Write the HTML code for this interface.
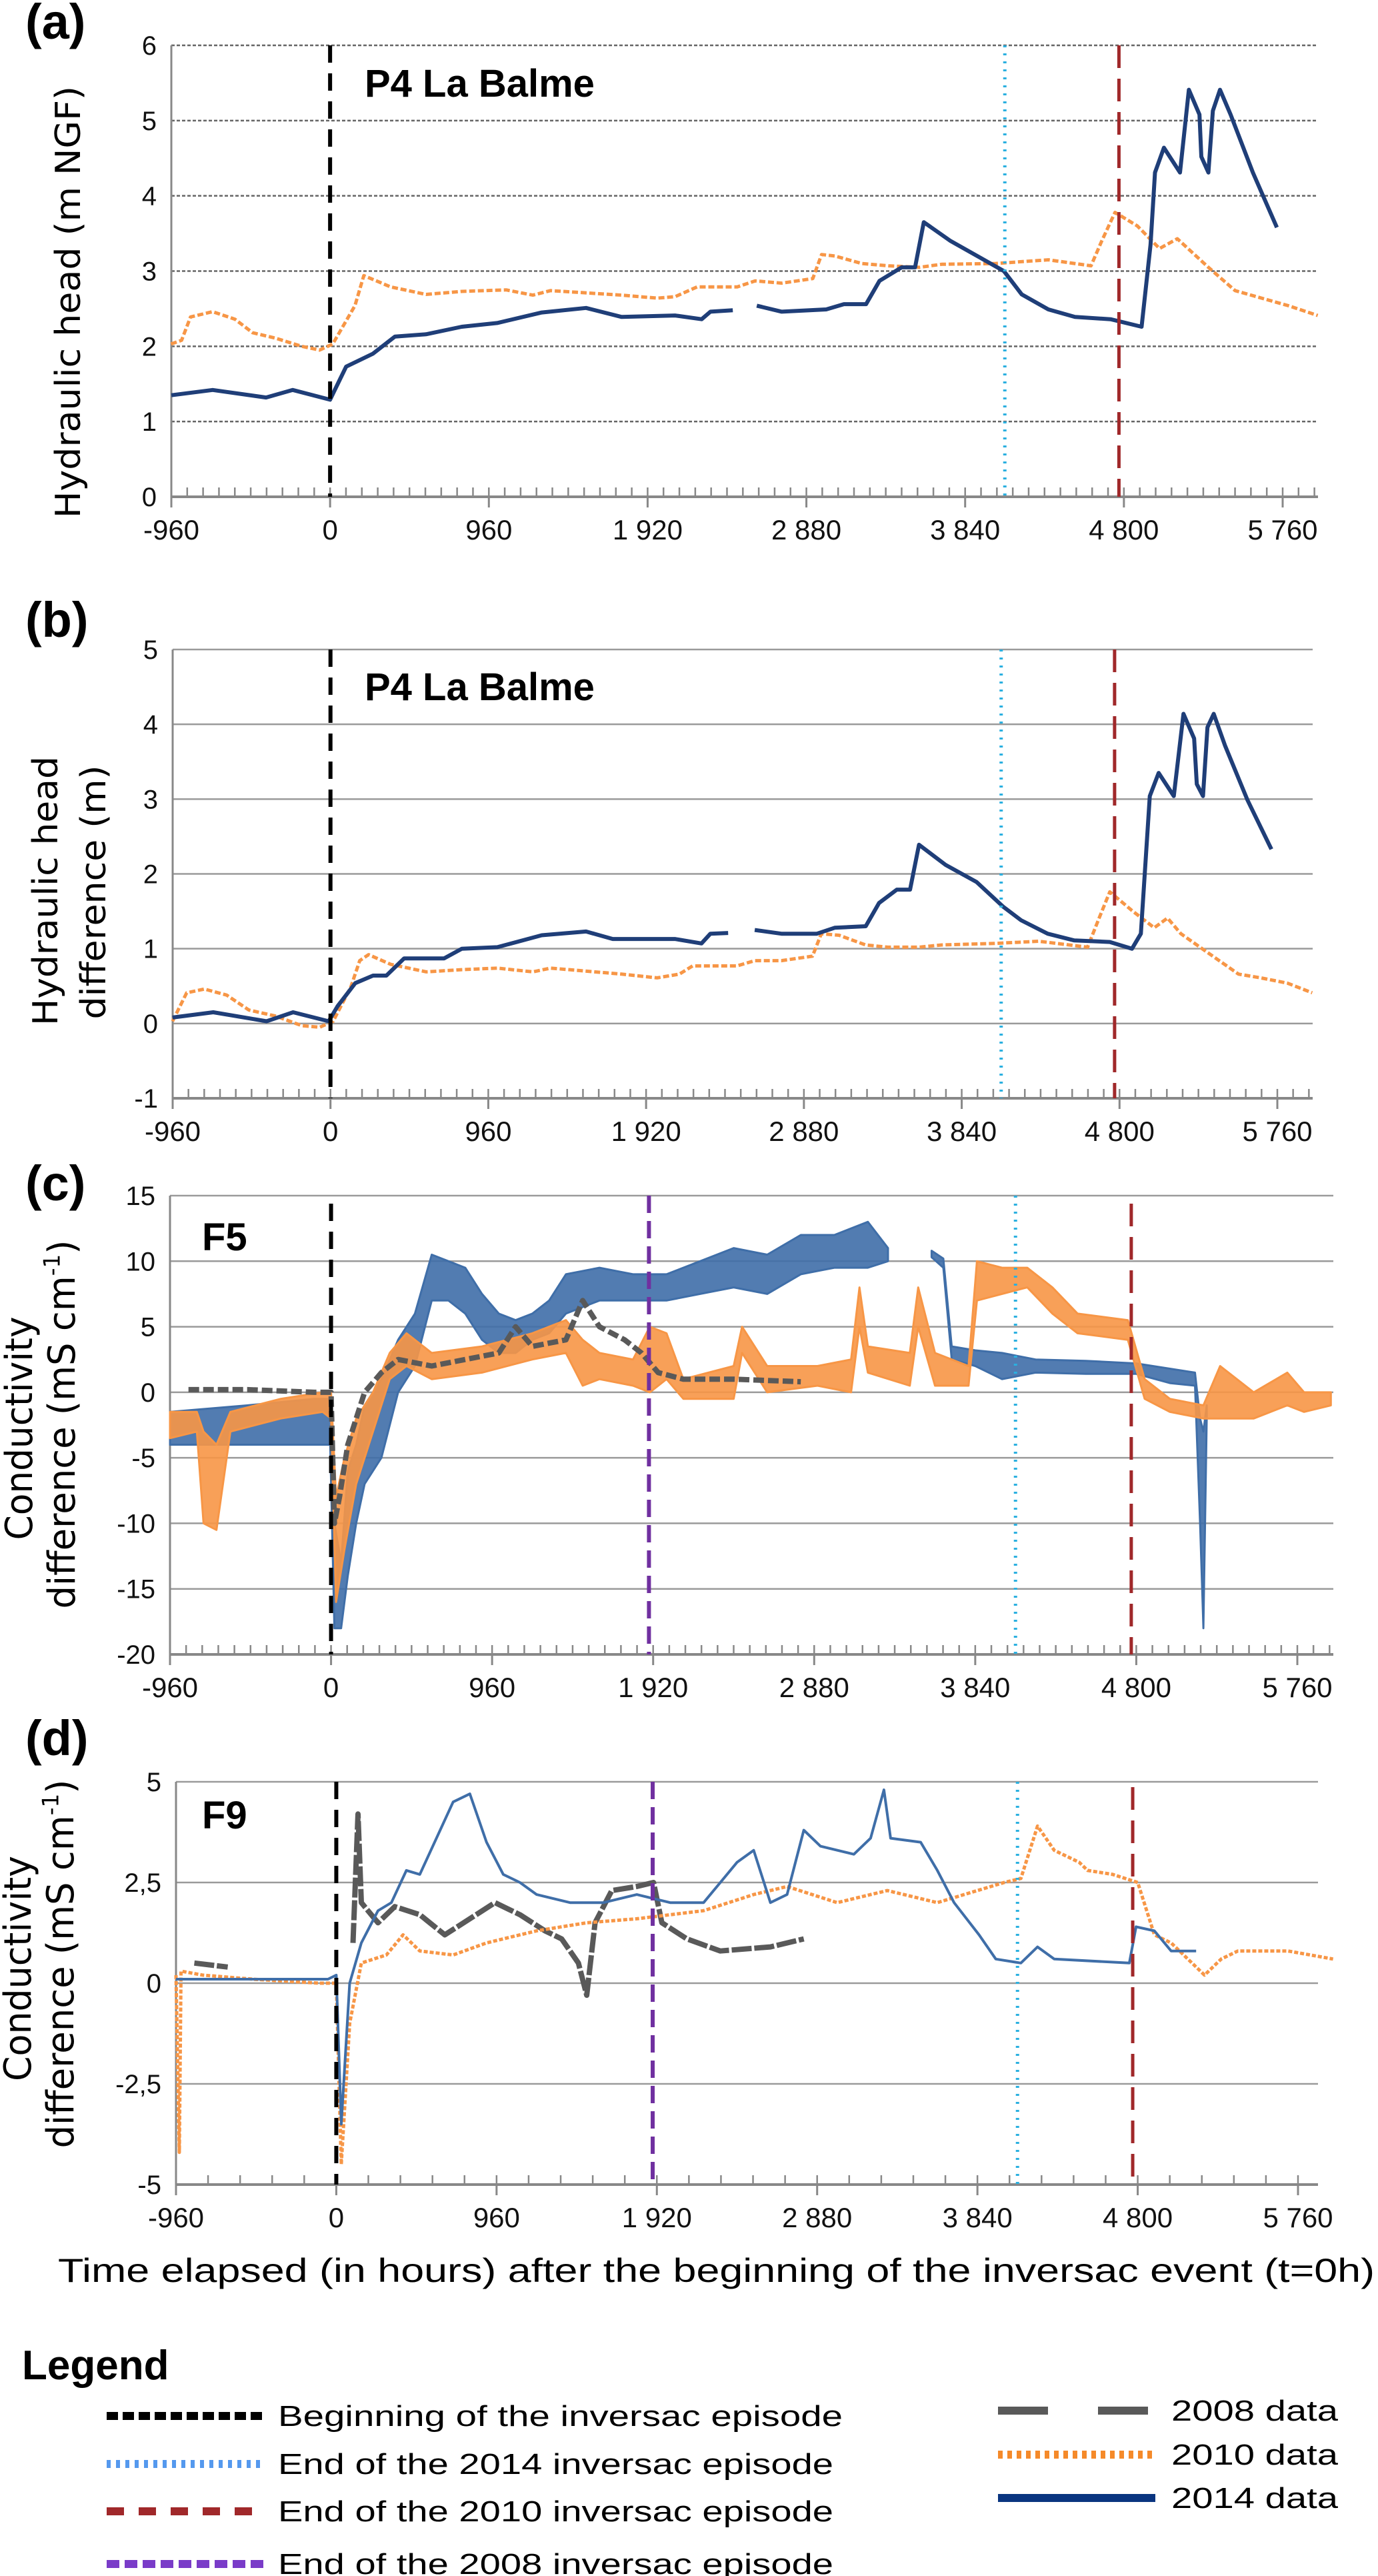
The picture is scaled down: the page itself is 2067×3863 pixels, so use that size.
<!DOCTYPE html>
<html><head><meta charset="utf-8"><style>
html,body{margin:0;padding:0;background:#fff;}
svg{display:block;font-family:"Liberation Sans",sans-serif;}
</style></head><body>
<svg id="fig" width="2067" height="3863" viewBox="0 0 2067 3863" xmlns="http://www.w3.org/2000/svg"></svg>
<script>
// ---------- DATA ----------
const xTicks = [-960, 0, 960, 1920, 2880, 3840, 4800, 5760];
const xTickLabels = ["-960", "0", "960", "1 920", "2 880", "3 840", "4 800", "5 760"];
const aYTicks = [0, 1, 2, 3, 4, 5, 6];
const bYTicks = [-1, 0, 1, 2, 3, 4, 5];
const cYTicks = [-20, -15, -10, -5, 0, 5, 10, 15];
const dYTicks = [-5, -2.5, 0, 2.5, 5];
const dYTickLabels = ["-5", "-2,5", "0", "2,5", "5"];
const episodeStart = 0;
const end2014 = 4080;
const end2010 = 4770;
const end2008 = 1895;

// (a) hydraulic head
const aHours2014 = [-960,-710,-387,-226,0,97,258,392,580,796,1010,1280,1548,1763,2086,2247,2300,2435,2500,2580,2731,3000,3107,3241,3322,3456,3537,3590,3752,3913,4074,4182,4343,4504,4719,4907,4961,4988,5042,5139,5193,5257,5268,5311,5338,5381,5445,5580,5725];
const aVals2014 = [1.35,1.42,1.32,1.42,1.29,1.73,1.9,2.13,2.16,2.26,2.31,2.45,2.51,2.39,2.41,2.36,2.46,2.48,null,2.54,2.46,2.49,2.56,2.56,2.87,3.05,3.05,3.65,3.40,3.20,3.0,2.69,2.49,2.39,2.36,2.26,3.35,4.31,4.64,4.31,5.41,5.08,4.52,4.31,5.13,5.41,5.08,4.31,3.58];
const aHours2010 = [-962,-898,-844,-710,-575,-468,-333,-172,-64,16,150,204,366,580,796,1064,1226,1333,1763,1978,2086,2220,2462,2570,2731,2919,2972,3053,3215,3376,3564,3698,4021,4343,4601,4666,4746,4881,5015,5123,5311,5472,5633,5794,5972];
const aVals2010 = [2.03,2.08,2.39,2.46,2.36,2.18,2.11,2.0,1.95,2.03,2.54,2.94,2.79,2.69,2.73,2.75,2.68,2.74,2.68,2.64,2.66,2.79,2.79,2.87,2.84,2.9,3.22,3.2,3.1,3.07,3.05,3.09,3.1,3.15,3.07,3.4,3.78,3.60,3.30,3.43,3.05,2.74,2.64,2.54,2.41];

// (b) hydraulic head difference
const bHours2014 = [-961,-713,-389,-227,-11,43,151,259,340,448,583,691,799,1015,1285,1555,1717,2095,2257,2311,2419,2500,2581,2743,2959,3067,3256,3337,3445,3526,3580,3742,3931,4093,4201,4363,4525,4741,4876,4930,4984,5038,5130,5189,5254,5270,5308,5335,5373,5443,5578,5724];
const bVals2014 = [0.08,0.15,0.03,0.15,0.03,0.23,0.54,0.64,0.64,0.87,0.87,0.87,1.0,1.02,1.18,1.23,1.13,1.13,1.07,1.2,1.21,null,1.25,1.2,1.2,1.28,1.30,1.61,1.79,1.79,2.39,2.12,1.89,1.56,1.38,1.2,1.11,1.09,1.0,1.2,3.04,3.35,3.04,4.14,3.81,3.2,3.04,3.96,4.14,3.71,2.99,2.33];
const bHours2010 = [-961,-875,-767,-632,-497,-335,-173,-65,16,124,178,232,367,583,799,1015,1231,1339,1771,1987,2122,2203,2473,2581,2743,2932,2986,3094,3256,3391,3580,3715,4039,4309,4606,4676,4741,4876,5011,5092,5173,5335,5524,5659,5821,5972];
const bVals2010 = [0.03,0.41,0.46,0.38,0.18,0.10,-0.03,-0.05,0.03,0.49,0.84,0.92,0.79,0.69,0.72,0.74,0.69,0.74,0.66,0.61,0.66,0.77,0.77,0.84,0.84,0.90,1.2,1.18,1.05,1.02,1.02,1.05,1.07,1.10,1.02,1.41,1.76,1.51,1.28,1.41,1.2,0.95,0.66,0.61,0.54,0.41];

// (c) F5 conductivity difference (noisy records given as low/high envelopes)
const cHours2014 = [-960,-500,-100,-5,20,60,100,150,200,300,400,500,600,700,800,900,1000,1100,1200,1300,1400,1600,1800,2000,2200,2400,2600,2800,3000,3200,3320];
const cLow2014 =   [-4,-4,-4,-4,-18,-18,-14,-10,-7,-5,0,2,7,7,6,4,3,3,4,4.5,6,7,7,7,7.5,8,7.5,9,9.5,9.5,10];
const cHigh2014 =  [-1.5,-1,-0.5,-0.5,-10,-13,-6,-4,-1,1,4,6,10.5,10,9.5,7.5,6,5.5,6,7,9,9.5,9,9,10,11,10.5,12,12,13,11];
const cHours2014b = [3580,3650,3700,3840,4000,4200,4500,4800,5000,5150,5180,5200,5220];
const cLow2014b =   [10.3,9.5,2.5,2,1,1.5,1.4,1.4,0.7,0.5,-10,-18,-2];
const cHigh2014b =  [10.8,10.2,3.5,3.2,3,2.5,2.4,2.2,1.8,1.5,-2,-3,-1];
const cHours2010 = [-960,-800,-760,-683,-600,-300,-50,0,30,80,150,250,350,450,600,900,1200,1400,1500,1600,1800,1900,2000,2100,2400,2450,2600,2900,3100,3150,3200,3450,3500,3600,3800,3850,4000,4150,4300,4450,4750,4850,5000,5200,5300,5500,5700,5800,5960];
const cLow2010 =  [-3.5,-3,-10,-10.5,-3,-2,-1.5,-2,-16,-12,-7,-3,1,2,1,1.5,2.5,3,0.5,1,0.5,0,1,-0.5,-0.5,3,0,0.5,0,5,1.5,0.5,5,0.5,0.5,7,7.5,8,6,4.5,4,-0.5,-1.5,-2,-2,-2,-1,-1.5,-1];
const cHigh2010 = [-1.5,-1.5,-3,-4,-1.5,-0.5,0,0,-8,-5,-2,0,3,4.5,3,3.5,4.5,5.5,4,3,2.5,5,4.5,1,2,5,2,2,2.5,8,3.5,3,8,3,2,10,9.5,9.5,8,6,5.5,1,-0.5,-1,2,0,1.5,0,0];
const cHours2008 = [-850,-500,-100,0,20,50,100,150,200,300,400,600,800,1000,1100,1200,1400,1500,1600,1750,1850,1950,2100,2400,2800];
const cVals2008 =  [0.2,0.2,0,0,-10,-8,-4,-2,0,1.5,2.5,2,2.5,3,5,3.5,4,7,5,4,3,1.5,1,1,0.8];

// (d) F9 conductivity difference
const dHours2014 = [-960,-500,-50,0,30,80,150,250,330,420,500,700,800,900,1000,1100,1200,1400,1600,1800,2000,2200,2300,2400,2500,2600,2700,2800,2900,3100,3200,3280,3320,3500,3600,3700,3850,3950,4100,4200,4300,4750,4790,4900,5000,5150];
const dVals2014 = [0.1,0.1,0.1,0.2,-3.5,0,1,1.8,2,2.8,2.7,4.5,4.7,3.5,2.7,2.5,2.2,2,2,2.2,2,2,2.5,3,3.3,2,2.2,3.8,3.4,3.2,3.6,4.8,3.6,3.5,2.8,2,1.2,0.6,0.5,0.9,0.6,0.5,1.4,1.3,0.8,0.8];
const dHours2010 = [-960,-940,-930,-800,-500,-100,0,30,80,150,300,400,500,700,900,1200,1500,1800,2200,2500,2700,3000,3300,3600,4000,4100,4200,4300,4450,4500,4650,4800,4900,5000,5200,5300,5400,5700,5970];
const dVals2010 = [0.2,-4.2,0.3,0.2,0.1,0,0,-4.5,-1,0.5,0.7,1.2,0.8,0.7,1.0,1.3,1.5,1.6,1.8,2.2,2.4,2.0,2.3,2.0,2.5,2.6,3.9,3.3,3.0,2.8,2.7,2.5,1.2,1.0,0.2,0.6,0.8,0.8,0.6];
const dHours2008 = [-850,-650,-600,100,130,150,250,350,500,650,800,950,1100,1250,1350,1450,1500,1550,1650,1800,1900,1950,2100,2300,2600,2800];
const dVals2008 =  [0.5,0.4,null,1,4.2,2,1.5,1.9,1.7,1.2,1.6,2.0,1.7,1.3,1.1,0.5,-0.3,1.5,2.3,2.4,2.5,1.5,1.1,0.8,0.9,1.1];

// ---------- DRAWING ----------
const NS = "http://www.w3.org/2000/svg";
const svg = document.getElementById('fig');
function el(tag, attrs, parent) {
  const e = document.createElementNS(NS, tag);
  for (const k in attrs) e.setAttribute(k, attrs[k]);
  (parent || svg).appendChild(e);
  return e;
}
const C2014 = "#1f3e78", C2014b = "#3f6ea8", C2010 = "#f79646", C2008 = "#595959";

function makePanel(p) {
  const g = el('g', {});
  
  
  const xs = h => p.x0 + (h + 960) / 6720 * (p.x5760 - p.x0);
  const ys = v => p.yTop + (p.yMax - v) / (p.yMax - p.yMin) * (p.yBot - p.yTop);
  // gridlines
  p.yTicks.forEach((v, i) => {
    const gl = el('line', {x1: p.x0, x2: p.right, y1: ys(v), y2: ys(v), stroke: p.dottedGrid ? '#666' : '#9a9a9a', 'stroke-width': p.dottedGrid ? 2.5 : 2.5, 'stroke-dasharray': p.dottedGrid ? '5,3' : 'none'}, g);
    
    
    const t = el('text', {x: p.x0 - 22, y: ys(v) + 14, 'text-anchor': 'end', 'font-size': 40, fill: '#111'}, g);
    t.textContent = p.yLabels ? p.yLabels[i] : String(v);
    
    
  });
  // y axis line
  el('line', {x1: p.x0, x2: p.x0, y1: p.yTop, y2: p.yBot, stroke: '#888', 'stroke-width': 3}, g);
  // x axis
  const ax = el('line', {x1: p.x0, x2: p.right, y1: p.yBot, y2: p.yBot, stroke: '#888', 'stroke-width': 4}, g);
  
  
  for (let h = -960; xs(h) <= p.right + 1; h += p.minor) {
    el('line', {x1: xs(h), x2: xs(h), y1: p.yBot - 14, y2: p.yBot, stroke: '#888', 'stroke-width': 2.5}, g);
  }
  xTicks.forEach((h, i) => {
    el('line', {x1: xs(h), x2: xs(h), y1: p.yBot, y2: p.yBot + 16, stroke: '#888', 'stroke-width': 3}, g);
    const t = el('text', {x: xs(h), y: p.yBot + 64, 'text-anchor': 'middle', 'font-size': 42, fill: '#111'}, g);
    t.textContent = xTickLabels[i];
    
    
  });
  // series
  function linePath(hrs, vals) {
    let d = '', pen = false;
    hrs.forEach((h, i) => {
      const v = vals[i];
      if (v === null || v === undefined) { pen = false; return; }
      d += (pen ? 'L' : 'M') + xs(h).toFixed(1) + ',' + ys(v).toFixed(1);
      pen = true;
    });
    return d;
  }
  function bandPath(hrs, lo, hi) {
    let d = '';
    hrs.forEach((h, i) => { d += (i ? 'L' : 'M') + xs(h).toFixed(1) + ',' + ys(hi[i]).toFixed(1); });
    for (let i = hrs.length - 1; i >= 0; i--) d += 'L' + xs(hrs[i]).toFixed(1) + ',' + ys(lo[i]).toFixed(1);
    return d + 'Z';
  }
  p.series.forEach(s => {
    let e;
    if (s.lo) {
      e = el('path', {d: bandPath(s.hours, s.lo, s.hi), fill: s.color, 'fill-opacity': 0.9, stroke: s.color, 'stroke-width': 3, 'stroke-linejoin': 'round'}, g);
    } else {
      e = el('path', {d: linePath(s.hours, s.vals), fill: 'none', stroke: s.color, 'stroke-width': s.w, 'stroke-dasharray': s.dash || 'none', 'stroke-linejoin': 'round'}, g);
    }
    
    
  });
  // vertical event markers
  p.markers.forEach(m => {
    const e = el('line', {x1: xs(m.h), x2: xs(m.h), y1: m.top === undefined ? p.yTop : p.yTop + m.top, y2: p.yBot, stroke: m.color, 'stroke-width': m.w, 'stroke-dasharray': m.dash}, g);
    
    
  });
  // station label
  const st = el('text', {x: p.stX, y: p.stY, 'font-size': 58, 'font-weight': 'bold', fill: '#000'}, g);
  st.textContent = p.station;
  
  
  // panel letter
  const pl = el('text', {x: 38, y: p.letterY, 'font-size': 74, 'font-weight': 'bold', fill: '#000'}, g);
  pl.textContent = p.letter;
  
  
  // y titles
  p.yTitles.forEach(t => {
    const te = el('text', {x: 0, y: 0, transform: 'translate(' + t.x + ',' + t.cy + ') rotate(-90)', 'text-anchor': 'middle', 'font-size': t.fs, 'font-family': '"DejaVu Sans",sans-serif', fill: '#000', textLength: t.len, lengthAdjust: 'spacingAndGlyphs'}, g);
    
    
    if (t.sup) {
      te.appendChild(document.createTextNode(t.text));
      const s = el('tspan', {'font-size': t.fs * 0.6, dy: -t.fs * 0.4}, te);
      s.textContent = '-1';
      const r = el('tspan', {dy: t.fs * 0.4}, te);
      r.textContent = ')';
    } else te.textContent = t.text;
  });
}

const mkStart = {h: episodeStart, color: '#000', w: 6, dash: '26,16', name: 'start-marker'};
const mk2014 = {h: end2014, color: '#2bb0e0', w: 5, dash: '3,9', name: 'end-2014-marker'};
const mk2010 = {h: end2010, color: '#a0282a', w: 5, dash: '34,16', name: 'end-2010-marker'};
const mk2008 = {h: end2008, color: '#7030a0', w: 6, dash: '26,12', name: 'end-2008-marker'};

makePanel({name: 'panel-a-hydraulic-head', letter: '(a)', letterY: 58, x0: 257, x5760: 1924, right: 1977, yTop: 68, yBot: 745, yMin: 0, yMax: 6, yTicks: aYTicks, dottedGrid: true, minor: 96,
  station: 'P4 La Balme', stX: 547, stY: 145, markers: [mkStart, mk2014, mk2010],
  yTitles: [{text: 'Hydraulic head (m NGF)', x: 120, cy: 453, fs: 52, len: 648}],
  series: [
    {name: 'series-2010', hours: aHours2010, vals: aVals2010, color: C2010, w: 5, dash: '9,4'},
    {name: 'series-2014', hours: aHours2014, vals: aVals2014, color: C2014, w: 6}
  ]});
makePanel({name: 'panel-b-head-difference', letter: '(b)', letterY: 955, x0: 259, x5760: 1916, right: 1969, yTop: 974, yBot: 1647, yMin: -1, yMax: 5, yTicks: bYTicks, dottedGrid: false, minor: 96,
  station: 'P4 La Balme', stX: 547, stY: 1050, markers: [mkStart, mk2014, mk2010],
  yTitles: [{text: 'Hydraulic head', x: 86, cy: 1336, fs: 52, len: 404}, {text: 'difference (m)', x: 158, cy: 1338, fs: 52, len: 381}],
  series: [
    {name: 'series-2010', hours: bHours2010, vals: bVals2010, color: C2010, w: 5, dash: '9,4'},
    {name: 'series-2014', hours: bHours2014, vals: bVals2014, color: C2014, w: 6}
  ]});
makePanel({name: 'panel-c-f5-conductivity', letter: '(c)', letterY: 1800, x0: 255, x5760: 1946, right: 2000, yTop: 1793, yBot: 2481, yMin: -20, yMax: 15, yTicks: cYTicks, dottedGrid: false, minor: 96,
  station: 'F5', stX: 303, stY: 1875, markers: [Object.assign({}, mkStart, {top: 12}), mk2008, mk2014, Object.assign({}, mk2010, {top: 12})],
  yTitles: [{text: 'Conductivity', x: 48, cy: 2142, fs: 56, len: 335}, {text: 'difference (mS cm', x: 112, cy: 2136, fs: 56, len: 553, sup: true}],
  series: [
    {name: 'series-2014', hours: cHours2014, lo: cLow2014, hi: cHigh2014, color: C2014b},
    {name: 'series-2014-late', hours: cHours2014b, lo: cLow2014b, hi: cHigh2014b, color: C2014b},
    {name: 'series-2010', hours: cHours2010, lo: cLow2010, hi: cHigh2010, color: C2010},
    {name: 'series-2008', hours: cHours2008, vals: cVals2008, color: C2008, w: 8, dash: '16,6'}
  ]});
makePanel({name: 'panel-d-f9-conductivity', letter: '(d)', letterY: 2632, x0: 264, x5760: 1947, right: 1977, yTop: 2672, yBot: 3276, yMin: -5, yMax: 5, yTicks: dYTicks, yLabels: dYTickLabels, dottedGrid: false, minor: 192,
  station: 'F9', stX: 303, stY: 2742, markers: [mkStart, mk2008, mk2014, Object.assign({}, mk2010, {top: 8})],
  yTitles: [{text: 'Conductivity', x: 46, cy: 2952, fs: 56, len: 338}, {text: 'difference (mS cm', x: 110, cy: 2945, fs: 56, len: 553, sup: true}],
  series: [
    {name: 'series-2008', hours: dHours2008, vals: dVals2008, color: C2008, w: 8, dash: '30,4'},
    {name: 'series-2010', hours: dHours2010, vals: dVals2010, color: C2010, w: 5, dash: '6,3'},
    {name: 'series-2014', hours: dHours2014, vals: dVals2014, color: C2014b, w: 4}
  ]});

// x-axis title
const xt = el('text', {x: 87, y: 3422, 'font-size': 50, fill: '#000', textLength: 1975, lengthAdjust: 'spacingAndGlyphs'});
xt.textContent = 'Time elapsed (in hours) after the beginning of the inversac event (t=0h)';



// legend
const lg = el('g', {});


const lt = el('text', {x: 33, y: 3568, 'font-size': 62, 'font-weight': 'bold', fill: '#000'}, lg);
lt.textContent = 'Legend';


const legLeft = [
  {label: 'Beginning of the inversac episode', color: '#000', dash: '17,7', y: 3623, len: 847},
  {label: 'End of the 2014 inversac episode', color: '#5599ee', dash: '6,8', y: 3695, len: 833},
  {label: 'End of the 2010 inversac episode', color: '#a0282a', dash: '26,22', y: 3766, len: 833},
  {label: 'End of the 2008 inversac episode', color: '#7a3cc8', dash: '19,8', y: 3845, len: 833}
];
legLeft.forEach(e => {
  const l = el('line', {x1: 160, x2: 397, y1: e.y, y2: e.y, stroke: e.color, 'stroke-width': 12, 'stroke-dasharray': e.dash}, lg);
  
  
  const t = el('text', {x: 417, y: e.y + 15, 'font-size': 44, fill: '#000', textLength: e.len, lengthAdjust: 'spacingAndGlyphs'}, lg);
  t.textContent = e.label;
  
  
});
const legRight = [
  {label: '2008 data', color: '#595959', dash: '75,75', w: 12, y: 3615},
  {label: '2010 data', color: '#f58a2a', dash: '7,7', w: 12, y: 3681},
  {label: '2014 data', color: '#0a3580', dash: 'none', w: 12, y: 3746}
];
legRight.forEach(e => {
  const l = el('line', {x1: 1497, x2: 1733, y1: e.y, y2: e.y, stroke: e.color, 'stroke-width': e.w, 'stroke-dasharray': e.dash}, lg);
  
  
  const t = el('text', {x: 1757, y: e.y + 15, 'font-size': 44, fill: '#000', textLength: 250, lengthAdjust: 'spacingAndGlyphs'}, lg);
  t.textContent = e.label;
  
  
});
</script>
</body></html>
